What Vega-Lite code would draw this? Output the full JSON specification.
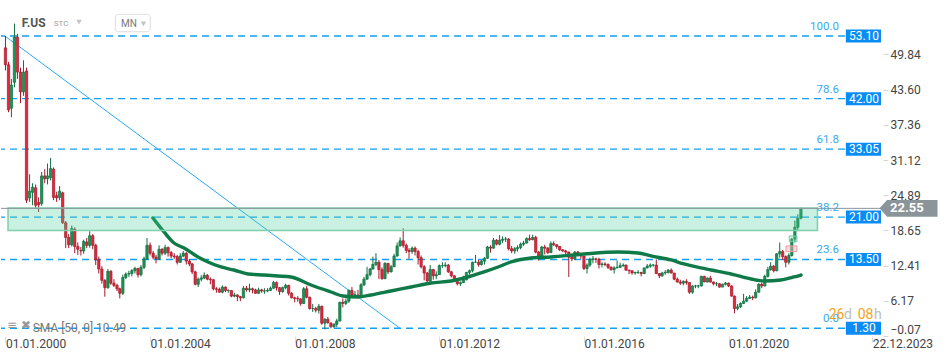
{
"$schema": "https://vega.github.io/schema/vega-lite/v6.json",
"width": 880, "height": 336, "padding": 0, "autosize": {"type": "pad"},
"background": "white",
"config": {"view": {"stroke": null}, "font": "Roboto", "text": {"font": "Roboto"}, "scale": {"continuousPadding": 0}},
"datasets": {
"candles": [
{"d":"2000-01-01","o":51.0,"h":53.1,"l":47.0,"c":48.0},
{"d":"2000-02-01","o":48.0,"h":48.5,"l":39.6,"c":40.0},
{"d":"2000-03-01","o":40.3,"h":45.5,"l":38.7,"c":44.4},
{"d":"2000-04-01","o":44.9,"h":55.3,"l":44.0,"c":52.9},
{"d":"2000-05-01","o":52.9,"h":53.5,"l":45.5,"c":46.7},
{"d":"2000-06-01","o":46.7,"h":47.5,"l":41.2,"c":43.2},
{"d":"2000-07-01","o":43.2,"h":48.8,"l":42.5,"c":46.7},
{"d":"2000-08-01","o":46.9,"h":47.5,"l":23.5,"c":24.0},
{"d":"2000-09-01","o":24.4,"h":28.6,"l":23.7,"c":25.6},
{"d":"2000-10-01","o":25.4,"h":27.0,"l":23.1,"c":26.3},
{"d":"2000-11-01","o":26.2,"h":26.8,"l":22.5,"c":23.1},
{"d":"2000-12-01","o":23.6,"h":24.5,"l":21.9,"c":23.2},
{"d":"2001-01-01","o":23.4,"h":29.0,"l":23.0,"c":28.3},
{"d":"2001-02-01","o":28.3,"h":29.5,"l":27.0,"c":27.8},
{"d":"2001-03-01","o":27.8,"h":30.5,"l":26.8,"c":28.3},
{"d":"2001-04-01","o":28.0,"h":31.5,"l":27.5,"c":29.6},
{"d":"2001-05-01","o":29.5,"h":29.8,"l":24.0,"c":24.5},
{"d":"2001-06-01","o":24.8,"h":25.5,"l":23.7,"c":24.4},
{"d":"2001-07-01","o":24.5,"h":26.5,"l":24.0,"c":25.6},
{"d":"2001-08-01","o":25.3,"h":25.5,"l":19.8,"c":20.0},
{"d":"2001-09-01","o":20.0,"h":20.3,"l":15.5,"c":17.4},
{"d":"2001-10-01","o":17.4,"h":18.0,"l":15.5,"c":16.1},
{"d":"2001-11-01","o":16.1,"h":19.5,"l":15.8,"c":19.0},
{"d":"2001-12-01","o":18.8,"h":19.2,"l":14.6,"c":15.8},
{"d":"2002-01-01","o":15.8,"h":16.5,"l":14.3,"c":15.3},
{"d":"2002-02-01","o":15.1,"h":15.7,"l":14.2,"c":15.0},
{"d":"2002-03-01","o":15.0,"h":17.0,"l":14.5,"c":16.7},
{"d":"2002-04-01","o":16.6,"h":17.3,"l":15.5,"c":16.0},
{"d":"2002-05-01","o":16.0,"h":18.5,"l":15.6,"c":17.7},
{"d":"2002-06-01","o":17.7,"h":18.0,"l":15.3,"c":16.0},
{"d":"2002-07-01","o":16.0,"h":16.3,"l":12.5,"c":13.4},
{"d":"2002-08-01","o":13.4,"h":14.0,"l":11.0,"c":11.8},
{"d":"2002-09-01","o":11.8,"h":12.3,"l":9.2,"c":9.8},
{"d":"2002-10-01","o":9.8,"h":10.0,"l":6.9,"c":8.5},
{"d":"2002-11-01","o":8.5,"h":11.8,"l":8.3,"c":11.4},
{"d":"2002-12-01","o":11.4,"h":11.6,"l":9.0,"c":9.3},
{"d":"2003-01-01","o":9.3,"h":10.0,"l":8.6,"c":8.9},
{"d":"2003-02-01","o":8.9,"h":9.2,"l":7.9,"c":8.3},
{"d":"2003-03-01","o":8.3,"h":8.5,"l":6.6,"c":7.5},
{"d":"2003-04-01","o":7.5,"h":10.8,"l":7.2,"c":10.3},
{"d":"2003-05-01","o":10.3,"h":11.2,"l":10.0,"c":10.9},
{"d":"2003-06-01","o":10.9,"h":11.5,"l":10.4,"c":11.0},
{"d":"2003-07-01","o":11.0,"h":11.8,"l":10.5,"c":11.5},
{"d":"2003-08-01","o":11.5,"h":12.2,"l":11.0,"c":11.9},
{"d":"2003-09-01","o":11.9,"h":12.0,"l":10.3,"c":10.8},
{"d":"2003-10-01","o":10.8,"h":12.5,"l":10.5,"c":12.1},
{"d":"2003-11-01","o":12.1,"h":14.0,"l":11.8,"c":13.6},
{"d":"2003-12-01","o":13.6,"h":17.3,"l":13.4,"c":16.0},
{"d":"2004-01-01","o":16.0,"h":16.5,"l":14.2,"c":14.6},
{"d":"2004-02-01","o":14.6,"h":15.0,"l":13.5,"c":13.9},
{"d":"2004-03-01","o":13.9,"h":14.3,"l":12.8,"c":13.6},
{"d":"2004-04-01","o":13.6,"h":16.0,"l":13.4,"c":15.3},
{"d":"2004-05-01","o":15.3,"h":15.5,"l":14.2,"c":14.6},
{"d":"2004-06-01","o":14.6,"h":16.1,"l":14.3,"c":15.6},
{"d":"2004-07-01","o":15.6,"h":15.8,"l":14.0,"c":14.7},
{"d":"2004-08-01","o":14.7,"h":15.0,"l":13.7,"c":14.1},
{"d":"2004-09-01","o":14.1,"h":14.6,"l":13.6,"c":14.0},
{"d":"2004-10-01","o":14.0,"h":14.3,"l":12.6,"c":13.0},
{"d":"2004-11-01","o":13.0,"h":14.6,"l":12.9,"c":14.1},
{"d":"2004-12-01","o":14.1,"h":15.0,"l":13.9,"c":14.6},
{"d":"2005-01-01","o":14.6,"h":14.8,"l":12.6,"c":13.2},
{"d":"2005-02-01","o":13.2,"h":13.6,"l":12.3,"c":12.7},
{"d":"2005-03-01","o":12.7,"h":12.9,"l":10.9,"c":11.3},
{"d":"2005-04-01","o":11.3,"h":11.5,"l":8.9,"c":9.1},
{"d":"2005-05-01","o":9.1,"h":10.3,"l":8.6,"c":10.0},
{"d":"2005-06-01","o":10.0,"h":10.7,"l":9.6,"c":10.2},
{"d":"2005-07-01","o":10.2,"h":11.2,"l":10.0,"c":10.7},
{"d":"2005-08-01","o":10.7,"h":10.9,"l":9.8,"c":10.0},
{"d":"2005-09-01","o":10.0,"h":10.3,"l":9.1,"c":9.9},
{"d":"2005-10-01","o":9.9,"h":10.0,"l":8.0,"c":8.3},
{"d":"2005-11-01","o":8.3,"h":8.6,"l":7.6,"c":8.2},
{"d":"2005-12-01","o":8.2,"h":8.5,"l":7.6,"c":7.7},
{"d":"2006-01-01","o":7.7,"h":8.9,"l":7.5,"c":8.6},
{"d":"2006-02-01","o":8.6,"h":8.7,"l":7.7,"c":8.0},
{"d":"2006-03-01","o":8.0,"h":8.2,"l":7.6,"c":8.0},
{"d":"2006-04-01","o":8.0,"h":8.0,"l":6.8,"c":7.0},
{"d":"2006-05-01","o":7.0,"h":7.6,"l":6.8,"c":7.2},
{"d":"2006-06-01","o":7.2,"h":7.3,"l":6.1,"c":6.9},
{"d":"2006-07-01","o":6.9,"h":7.0,"l":6.1,"c":6.7},
{"d":"2006-08-01","o":6.7,"h":8.8,"l":6.6,"c":8.4},
{"d":"2006-09-01","o":8.4,"h":8.8,"l":7.8,"c":8.1},
{"d":"2006-10-01","o":8.1,"h":9.2,"l":7.7,"c":8.3},
{"d":"2006-11-01","o":8.3,"h":8.5,"l":7.5,"c":8.1},
{"d":"2006-12-01","o":8.1,"h":8.3,"l":7.4,"c":7.5},
{"d":"2007-01-01","o":7.5,"h":8.5,"l":7.4,"c":8.1},
{"d":"2007-02-01","o":8.1,"h":8.3,"l":7.6,"c":7.9},
{"d":"2007-03-01","o":7.9,"h":8.4,"l":7.4,"c":7.9},
{"d":"2007-04-01","o":7.9,"h":8.4,"l":7.7,"c":8.0},
{"d":"2007-05-01","o":8.0,"h":8.7,"l":7.9,"c":8.4},
{"d":"2007-06-01","o":8.4,"h":9.7,"l":8.3,"c":9.4},
{"d":"2007-07-01","o":9.4,"h":9.6,"l":8.0,"c":8.5},
{"d":"2007-08-01","o":8.5,"h":8.6,"l":7.2,"c":7.8},
{"d":"2007-09-01","o":7.8,"h":8.7,"l":7.6,"c":8.5},
{"d":"2007-10-01","o":8.5,"h":9.2,"l":8.2,"c":8.9},
{"d":"2007-11-01","o":8.9,"h":9.0,"l":7.1,"c":7.5},
{"d":"2007-12-01","o":7.5,"h":7.7,"l":6.6,"c":6.7},
{"d":"2008-01-01","o":6.7,"h":6.9,"l":5.9,"c":6.6},
{"d":"2008-02-01","o":6.6,"h":7.0,"l":6.0,"c":6.5},
{"d":"2008-03-01","o":6.5,"h":6.6,"l":5.3,"c":5.7},
{"d":"2008-04-01","o":5.7,"h":8.6,"l":5.6,"c":8.3},
{"d":"2008-05-01","o":8.3,"h":8.8,"l":6.6,"c":6.8},
{"d":"2008-06-01","o":6.8,"h":6.9,"l":4.6,"c":4.8},
{"d":"2008-07-01","o":4.8,"h":5.6,"l":4.2,"c":4.8},
{"d":"2008-08-01","o":4.8,"h":5.1,"l":4.1,"c":4.5},
{"d":"2008-09-01","o":4.5,"h":5.6,"l":3.9,"c":5.2},
{"d":"2008-10-01","o":5.2,"h":5.3,"l":1.9,"c":2.2},
{"d":"2008-11-01","o":2.2,"h":3.1,"l":1.1,"c":2.9},
{"d":"2008-12-01","o":2.9,"h":3.3,"l":2.1,"c":2.3},
{"d":"2009-01-01","o":2.2,"h":2.4,"l":1.3,"c":1.6},
{"d":"2009-02-01","o":1.6,"h":2.2,"l":1.3,"c":2.0},
{"d":"2009-03-01","o":2.0,"h":3.0,"l":1.5,"c":2.6},
{"d":"2009-04-01","o":2.6,"h":6.0,"l":2.5,"c":5.9},
{"d":"2009-05-01","o":5.9,"h":6.6,"l":5.0,"c":5.7},
{"d":"2009-06-01","o":5.7,"h":6.6,"l":5.4,"c":6.1},
{"d":"2009-07-01","o":6.1,"h":8.2,"l":5.8,"c":8.0},
{"d":"2009-08-01","o":8.0,"h":8.6,"l":7.0,"c":7.2},
{"d":"2009-09-01","o":7.2,"h":7.9,"l":6.8,"c":7.2},
{"d":"2009-10-01","o":7.2,"h":8.1,"l":6.7,"c":7.0},
{"d":"2009-11-01","o":7.0,"h":9.3,"l":6.8,"c":9.0},
{"d":"2009-12-01","o":9.0,"h":10.4,"l":8.8,"c":10.0},
{"d":"2010-01-01","o":10.0,"h":12.2,"l":9.9,"c":10.8},
{"d":"2010-02-01","o":10.8,"h":12.0,"l":10.5,"c":11.8},
{"d":"2010-03-01","o":11.8,"h":14.0,"l":11.7,"c":12.6},
{"d":"2010-04-01","o":12.6,"h":14.6,"l":12.3,"c":13.0},
{"d":"2010-05-01","o":13.0,"h":13.4,"l":10.0,"c":11.7},
{"d":"2010-06-01","o":11.7,"h":12.1,"l":9.9,"c":10.1},
{"d":"2010-07-01","o":10.1,"h":13.0,"l":10.0,"c":12.8},
{"d":"2010-08-01","o":12.8,"h":12.9,"l":10.9,"c":11.3},
{"d":"2010-09-01","o":11.3,"h":12.5,"l":11.2,"c":12.2},
{"d":"2010-10-01","o":12.2,"h":14.5,"l":12.2,"c":14.1},
{"d":"2010-11-01","o":14.1,"h":16.5,"l":14.0,"c":15.9},
{"d":"2010-12-01","o":15.9,"h":17.4,"l":15.8,"c":16.8},
{"d":"2011-01-01","o":16.8,"h":19.0,"l":15.6,"c":16.0},
{"d":"2011-02-01","o":16.0,"h":16.3,"l":14.6,"c":15.1},
{"d":"2011-03-01","o":15.1,"h":15.5,"l":13.6,"c":14.9},
{"d":"2011-04-01","o":14.9,"h":15.8,"l":14.5,"c":15.5},
{"d":"2011-05-01","o":15.5,"h":15.8,"l":14.2,"c":14.9},
{"d":"2011-06-01","o":14.9,"h":15.2,"l":12.6,"c":13.8},
{"d":"2011-07-01","o":13.8,"h":14.2,"l":11.9,"c":12.2},
{"d":"2011-08-01","o":12.2,"h":12.5,"l":9.8,"c":11.1},
{"d":"2011-09-01","o":11.1,"h":11.3,"l":9.4,"c":9.7},
{"d":"2011-10-01","o":9.7,"h":12.5,"l":9.1,"c":11.7},
{"d":"2011-11-01","o":11.7,"h":11.8,"l":9.9,"c":10.6},
{"d":"2011-12-01","o":10.6,"h":11.4,"l":10.0,"c":10.8},
{"d":"2012-01-01","o":10.8,"h":12.6,"l":10.8,"c":12.4},
{"d":"2012-02-01","o":12.4,"h":13.0,"l":12.0,"c":12.4},
{"d":"2012-03-01","o":12.4,"h":13.0,"l":12.1,"c":12.5},
{"d":"2012-04-01","o":12.5,"h":12.7,"l":11.1,"c":11.3},
{"d":"2012-05-01","o":11.3,"h":11.5,"l":10.3,"c":10.6},
{"d":"2012-06-01","o":10.6,"h":10.7,"l":9.5,"c":9.6},
{"d":"2012-07-01","o":9.6,"h":9.8,"l":8.9,"c":9.2},
{"d":"2012-08-01","o":9.2,"h":9.6,"l":8.8,"c":9.4},
{"d":"2012-09-01","o":9.4,"h":10.6,"l":9.3,"c":9.9},
{"d":"2012-10-01","o":9.9,"h":11.3,"l":9.8,"c":11.2},
{"d":"2012-11-01","o":11.2,"h":11.7,"l":10.8,"c":11.5},
{"d":"2012-12-01","o":11.5,"h":13.1,"l":11.2,"c":13.0},
{"d":"2013-01-01","o":13.0,"h":14.3,"l":12.9,"c":13.0},
{"d":"2013-02-01","o":13.0,"h":13.4,"l":12.2,"c":12.6},
{"d":"2013-03-01","o":12.6,"h":13.4,"l":12.4,"c":13.2},
{"d":"2013-04-01","o":13.2,"h":13.9,"l":12.6,"c":13.7},
{"d":"2013-05-01","o":13.7,"h":15.9,"l":13.6,"c":15.7},
{"d":"2013-06-01","o":15.7,"h":16.0,"l":14.7,"c":15.5},
{"d":"2013-07-01","o":15.5,"h":17.3,"l":15.4,"c":16.9},
{"d":"2013-08-01","o":16.9,"h":17.1,"l":16.0,"c":16.2},
{"d":"2013-09-01","o":16.2,"h":17.8,"l":16.0,"c":16.9},
{"d":"2013-10-01","o":16.9,"h":17.6,"l":16.4,"c":17.1},
{"d":"2013-11-01","o":17.1,"h":17.5,"l":16.6,"c":17.1},
{"d":"2013-12-01","o":17.1,"h":17.3,"l":15.1,"c":15.4},
{"d":"2014-01-01","o":15.4,"h":15.9,"l":14.6,"c":15.0},
{"d":"2014-02-01","o":15.0,"h":15.7,"l":14.5,"c":15.4},
{"d":"2014-03-01","o":15.4,"h":16.0,"l":14.9,"c":15.6},
{"d":"2014-04-01","o":15.6,"h":16.5,"l":15.3,"c":16.2},
{"d":"2014-05-01","o":16.2,"h":16.8,"l":15.9,"c":16.4},
{"d":"2014-06-01","o":16.4,"h":17.4,"l":16.3,"c":17.2},
{"d":"2014-07-01","o":17.2,"h":17.9,"l":16.8,"c":17.0},
{"d":"2014-08-01","o":17.0,"h":17.9,"l":16.9,"c":17.4},
{"d":"2014-09-01","o":17.4,"h":17.7,"l":14.6,"c":14.8},
{"d":"2014-10-01","o":14.8,"h":15.0,"l":13.3,"c":14.1},
{"d":"2014-11-01","o":14.1,"h":15.9,"l":14.1,"c":15.7},
{"d":"2014-12-01","o":15.7,"h":16.1,"l":14.4,"c":15.5},
{"d":"2015-01-01","o":15.5,"h":15.7,"l":14.5,"c":14.7},
{"d":"2015-02-01","o":14.7,"h":16.7,"l":14.7,"c":16.3},
{"d":"2015-03-01","o":16.3,"h":16.7,"l":15.9,"c":16.1},
{"d":"2015-04-01","o":16.1,"h":16.2,"l":15.4,"c":15.8},
{"d":"2015-05-01","o":15.8,"h":15.9,"l":15.0,"c":15.2},
{"d":"2015-06-01","o":15.2,"h":15.3,"l":14.8,"c":15.0},
{"d":"2015-07-01","o":15.0,"h":15.2,"l":14.1,"c":14.8},
{"d":"2015-08-01","o":14.8,"h":14.9,"l":10.4,"c":13.9},
{"d":"2015-09-01","o":13.9,"h":14.4,"l":13.2,"c":13.6},
{"d":"2015-10-01","o":13.6,"h":15.0,"l":13.4,"c":14.8},
{"d":"2015-11-01","o":14.8,"h":15.0,"l":14.0,"c":14.3},
{"d":"2015-12-01","o":14.3,"h":14.6,"l":13.6,"c":14.1},
{"d":"2016-01-01","o":14.1,"h":14.1,"l":11.6,"c":11.9},
{"d":"2016-02-01","o":11.9,"h":12.8,"l":11.0,"c":12.5},
{"d":"2016-03-01","o":12.5,"h":13.8,"l":12.2,"c":13.5},
{"d":"2016-04-01","o":13.5,"h":14.1,"l":12.8,"c":13.6},
{"d":"2016-05-01","o":13.6,"h":13.8,"l":12.9,"c":13.5},
{"d":"2016-06-01","o":13.5,"h":13.8,"l":11.9,"c":12.6},
{"d":"2016-07-01","o":12.6,"h":13.0,"l":12.1,"c":12.7},
{"d":"2016-08-01","o":12.7,"h":13.0,"l":12.3,"c":12.6},
{"d":"2016-09-01","o":12.6,"h":12.8,"l":11.8,"c":12.1},
{"d":"2016-10-01","o":12.1,"h":12.3,"l":11.5,"c":11.7},
{"d":"2016-11-01","o":11.7,"h":12.3,"l":11.0,"c":12.0},
{"d":"2016-12-01","o":12.0,"h":13.3,"l":11.9,"c":12.1},
{"d":"2017-01-01","o":12.1,"h":12.9,"l":12.0,"c":12.4},
{"d":"2017-02-01","o":12.4,"h":12.8,"l":12.2,"c":12.5},
{"d":"2017-03-01","o":12.5,"h":12.6,"l":11.5,"c":11.6},
{"d":"2017-04-01","o":11.6,"h":11.7,"l":10.9,"c":11.5},
{"d":"2017-05-01","o":11.5,"h":11.5,"l":10.8,"c":11.1},
{"d":"2017-06-01","o":11.1,"h":11.3,"l":10.8,"c":11.2},
{"d":"2017-07-01","o":11.2,"h":11.6,"l":10.9,"c":11.2},
{"d":"2017-08-01","o":11.2,"h":11.3,"l":10.5,"c":11.0},
{"d":"2017-09-01","o":11.0,"h":12.0,"l":10.9,"c":12.0},
{"d":"2017-10-01","o":12.0,"h":12.7,"l":11.9,"c":12.3},
{"d":"2017-11-01","o":12.3,"h":12.8,"l":12.0,"c":12.5},
{"d":"2017-12-01","o":12.5,"h":12.7,"l":12.2,"c":12.5},
{"d":"2018-01-01","o":12.5,"h":13.5,"l":10.9,"c":11.0},
{"d":"2018-02-01","o":11.0,"h":11.1,"l":10.2,"c":10.6},
{"d":"2018-03-01","o":10.6,"h":11.3,"l":10.4,"c":11.1},
{"d":"2018-04-01","o":11.1,"h":11.6,"l":10.8,"c":11.2},
{"d":"2018-05-01","o":11.2,"h":11.8,"l":11.0,"c":11.6},
{"d":"2018-06-01","o":11.6,"h":11.9,"l":11.0,"c":11.1},
{"d":"2018-07-01","o":11.1,"h":11.1,"l":9.8,"c":10.0},
{"d":"2018-08-01","o":10.0,"h":10.3,"l":9.4,"c":9.5},
{"d":"2018-09-01","o":9.5,"h":9.9,"l":9.0,"c":9.3},
{"d":"2018-10-01","o":9.3,"h":9.8,"l":8.9,"c":9.6},
{"d":"2018-11-01","o":9.6,"h":10.0,"l":9.0,"c":9.4},
{"d":"2018-12-01","o":9.4,"h":9.5,"l":7.4,"c":7.7},
{"d":"2019-01-01","o":7.7,"h":8.9,"l":7.4,"c":8.8},
{"d":"2019-02-01","o":8.8,"h":9.0,"l":8.4,"c":8.8},
{"d":"2019-03-01","o":8.8,"h":9.0,"l":8.4,"c":8.8},
{"d":"2019-04-01","o":8.8,"h":10.6,"l":8.7,"c":10.5},
{"d":"2019-05-01","o":10.5,"h":10.6,"l":9.5,"c":9.5},
{"d":"2019-06-01","o":9.5,"h":10.3,"l":9.4,"c":10.2},
{"d":"2019-07-01","o":10.2,"h":10.6,"l":9.4,"c":9.5},
{"d":"2019-08-01","o":9.5,"h":9.6,"l":8.9,"c":9.2},
{"d":"2019-09-01","o":9.2,"h":9.5,"l":8.8,"c":9.2},
{"d":"2019-10-01","o":9.2,"h":9.3,"l":8.5,"c":8.6},
{"d":"2019-11-01","o":8.6,"h":9.2,"l":8.6,"c":9.1},
{"d":"2019-12-01","o":9.1,"h":9.5,"l":8.9,"c":9.3},
{"d":"2020-01-01","o":9.3,"h":9.4,"l":8.6,"c":8.8},
{"d":"2020-02-01","o":8.8,"h":8.9,"l":6.9,"c":7.0},
{"d":"2020-03-01","o":7.0,"h":7.1,"l":3.96,"c":4.8},
{"d":"2020-04-01","o":4.8,"h":5.6,"l":4.5,"c":5.1},
{"d":"2020-05-01","o":5.1,"h":5.9,"l":4.9,"c":5.7},
{"d":"2020-06-01","o":5.7,"h":7.4,"l":5.6,"c":6.1},
{"d":"2020-07-01","o":6.1,"h":7.0,"l":6.0,"c":6.6},
{"d":"2020-08-01","o":6.6,"h":7.2,"l":6.5,"c":6.8},
{"d":"2020-09-01","o":6.8,"h":7.1,"l":6.3,"c":6.7},
{"d":"2020-10-01","o":6.7,"h":8.2,"l":6.6,"c":7.7},
{"d":"2020-11-01","o":7.7,"h":9.3,"l":7.6,"c":9.1},
{"d":"2020-12-01","o":9.1,"h":9.4,"l":8.4,"c":8.8},
{"d":"2021-01-01","o":8.8,"h":10.8,"l":8.7,"c":10.5},
{"d":"2021-02-01","o":10.5,"h":12.2,"l":10.3,"c":11.7},
{"d":"2021-03-01","o":11.7,"h":13.0,"l":11.5,"c":12.3},
{"d":"2021-04-01","o":12.3,"h":12.5,"l":11.2,"c":11.5},
{"d":"2021-05-01","o":11.5,"h":14.6,"l":11.4,"c":14.5},
{"d":"2021-06-01","o":14.5,"h":16.5,"l":13.8,"c":14.9},
{"d":"2021-07-01","o":14.9,"h":15.2,"l":13.4,"c":14.0},
{"d":"2021-08-01","o":14.0,"h":14.2,"l":12.1,"c":13.0},
{"d":"2021-09-01","o":13.0,"h":14.6,"l":12.6,"c":14.2},
{"d":"2021-10-01","o":14.2,"h":17.3,"l":14.0,"c":17.1},
{"d":"2021-11-01","o":17.1,"h":20.4,"l":16.5,"c":19.2},
{"d":"2021-12-01","o":19.2,"h":21.5,"l":18.5,"c":20.8},
{"d":"2022-01-01","o":20.8,"h":22.7,"l":20.6,"c":22.55}
],
"sma": [
{"d":"2004-01-30","v":20.85},{"d":"2004-05-21","v":18.37},{"d":"2004-08-30","v":16.42},{"d":"2004-12-09","v":15.53},
{"d":"2005-04-29","v":13.94},{"d":"2005-08-08","v":13.05},{"d":"2005-12-17","v":12.16},{"d":"2006-04-27","v":11.63},
{"d":"2006-09-16","v":10.92},{"d":"2007-02-24","v":10.74},{"d":"2007-07-15","v":10.57},{"d":"2007-11-24","v":10.39},
{"d":"2008-06-14","v":8.97},{"d":"2009-01-02","v":7.73},{"d":"2009-05-03","v":7.02},{"d":"2009-10-02","v":6.85},
{"d":"2010-02-10","v":7.2},{"d":"2010-08-30","v":7.91},{"d":"2011-03-21","v":8.62},{"d":"2011-10-09","v":9.33},
{"d":"2012-04-28","v":9.68},{"d":"2012-09-07","v":10.21},{"d":"2013-03-28","v":11.28},{"d":"2013-08-16","v":12.16},
{"d":"2013-12-25","v":13.05},{"d":"2014-07-15","v":13.76},{"d":"2015-02-02","v":13.94},{"d":"2016-01-01","v":14.47},
{"d":"2016-12-10","v":14.82},{"d":"2017-06-30","v":14.65},{"d":"2017-11-08","v":14.12},{"d":"2018-05-29","v":13.41},
{"d":"2018-10-07","v":12.7},{"d":"2019-03-28","v":11.99},{"d":"2019-07-07","v":11.63},{"d":"2020-01-25","v":10.92},
{"d":"2020-08-15","v":10.04},{"d":"2020-12-24","v":9.68},{"d":"2021-06-14","v":9.86},{"d":"2021-10-23","v":10.39},
{"d":"2022-01-02","v":10.74}
],
"fib": [
{"v":53.10,"p":"100.0","t":"53.10"},
{"v":42.00,"p":"78.6","t":"42.00"},
{"v":33.05,"p":"61.8","t":"33.05"},
{"v":21.00,"p":"38.2","t":"21.00"},
{"v":13.50,"p":"23.6","t":"13.50"},
{"v":1.30,"p":"0.0","t":"1.30"}
],
"trend": [
{"d":"1999-12-27","v":53.1},
{"d":"2010-11-30","v":1.3}
]
},
"layer": [
{
"data": {"name": "fib"},
"mark": {"type": "rule", "color": "#14a0ee", "strokeWidth": 1.4, "strokeDash": [7, 5]},
"encoding": {
"y": {"field": "v", "type": "quantitative", "title": null,
"scale": {"domain": [-0.07, 59.48], "nice": false, "zero": false, "padding": 0},
"axis": {"orient": "right", "values": [-0.07, 6.17, 12.41, 18.65, 24.89, 31.12, 37.36, 43.60, 49.84], "format": ".2f", "grid": false, "domain": false, "tickColor": "#d5d5d5", "tickSize": 5, "offset": 2, "labelPadding": 2, "labelColor": "#444", "labelFontSize": 12, "labelFont": "Roboto", "labelFlush": true, "title": null}}
}
},
{
"data": {"name": "trend"},
"mark": {"type": "line", "color": "#2aa8f2", "strokeWidth": 1},
"encoding": {
"x": {"field": "d", "type": "temporal", "title": null,
"scale": {"domain": [{"year": 1999, "month": 11, "date": 17, "utc": true}, {"year": 2024, "month": 3, "date": 20, "utc": true}], "nice": false, "padding": 0},
"axis": {"values": [{"year": 2000, "month": 1, "date": 1, "utc": true}, {"year": 2004, "month": 1, "date": 1, "utc": true}, {"year": 2008, "month": 1, "date": 1, "utc": true}, {"year": 2012, "month": 1, "date": 1, "utc": true}, {"year": 2016, "month": 1, "date": 1, "utc": true}, {"year": 2020, "month": 1, "date": 1, "utc": true}, {"year": 2023, "month": 12, "date": 22, "utc": true}],
"labelExpr": "utcFormat(datum.value, '%d.%m.%Y')", "labelAlign": "left", "labelFlush": false, "grid": false, "domain": false, "tickColor": "#dddddd", "tickSize": 6, "labelPadding": -4, "labelColor": "#444", "labelFontSize": 12, "labelFont": "Roboto", "title": null}},
"y": {"field": "v", "type": "quantitative", "title": null}
}
},
{
"data": {"name": "candles"},
"mark": {"type": "rule", "strokeWidth": 1},
"encoding": {
"x": {"field": "d", "type": "temporal", "title": null},
"y": {"field": "l", "type": "quantitative", "title": null},
"y2": {"field": "h"},
"color": {"condition": {"test": "datum.c >= datum.o", "value": "#0f6e3e"}, "value": "#a3182a"}
}
},
{
"data": {"name": "candles"},
"mark": {"type": "bar", "width": 2.3, "strokeWidth": 0.7},
"encoding": {
"x": {"field": "d", "type": "temporal", "title": null},
"y": {"field": "o", "type": "quantitative", "title": null},
"y2": {"field": "c"},
"fill": {"condition": {"test": "datum.c >= datum.o", "value": "#1d9459"}, "value": "#e0293d"},
"stroke": {"condition": {"test": "datum.c >= datum.o", "value": "#0f6e3e"}, "value": "#a3182a"}
}
},
{
"data": {"name": "sma"},
"mark": {"type": "line", "color": "#0f7a48", "strokeWidth": 3.4, "interpolate": "monotone", "strokeCap": "round"},
"encoding": {
"x": {"field": "d", "type": "temporal", "title": null},
"y": {"field": "v", "type": "quantitative", "title": null}
}
},
{
"data": {"values": [{}]},
"mark": {"type": "rect", "fill": "#48d19a", "fillOpacity": 0.3, "stroke": "#7fcfac", "strokeWidth": 1.5},
"encoding": {
"x": {"datum": {"year": 2000, "month": 1, "date": 27, "utc": true}, "type": "temporal"},
"x2": {"datum": {"year": 2022, "month": 6, "date": 17, "utc": true}},
"y": {"datum": 18.65, "type": "quantitative"},
"y2": {"datum": 22.6}
}
},
{
"data": {"values": [{}]},
"mark": {"type": "rule", "color": "#8c959b", "strokeWidth": 1},
"encoding": {"y": {"datum": 22.55, "type": "quantitative"}}
},
{
"data": {"values": [{}]},
"mark": {"type": "rect", "fill": "#7ed6b0", "fillOpacity": 0.35, "stroke": "#6fcaa2", "strokeWidth": 1},
"encoding": {
"x": {"datum": {"year": 2021, "month": 9, "date": 5, "utc": true}, "type": "temporal"},
"x2": {"datum": {"year": 2021, "month": 11, "date": 22, "utc": true}},
"y": {"datum": 16.65, "type": "quantitative"},
"y2": {"datum": 17.66}
}
},
{
"data": {"values": [{}]},
"mark": {"type": "rect", "fill": "#f4b6bb", "fillOpacity": 0.5, "stroke": "#f19ca4", "strokeWidth": 1},
"encoding": {
"x": {"datum": {"year": 2021, "month": 8, "date": 3, "utc": true}, "type": "temporal"},
"x2": {"datum": {"year": 2021, "month": 11, "date": 22, "utc": true}},
"y": {"datum": 14.88, "type": "quantitative"},
"y2": {"datum": 15.89}
}
},
{
"data": {"name": "fib"},
"mark": {"type": "rect", "color": "#0a8cf5", "yOffset": -6.5, "y2Offset": 6.5},
"encoding": {
"x": {"datum": {"year": 2023, "month": 3, "date": 31, "utc": true}, "type": "temporal"},
"x2": {"datum": {"year": 2024, "month": 3, "date": 20, "utc": true}},
"y": {"field": "v", "type": "quantitative"},
"y2": {"field": "v"}
}
},
{
"data": {"name": "fib"},
"mark": {"type": "text", "color": "white", "fontSize": 12, "align": "center", "baseline": "middle", "font": "Roboto"},
"encoding": {
"x": {"datum": {"year": 2023, "month": 9, "date": 30, "utc": true}, "type": "temporal"},
"y": {"field": "v", "type": "quantitative"},
"text": {"field": "t"}
}
},
{
"data": {"name": "fib"},
"mark": {"type": "text", "color": "#3aa9ec", "fontSize": 11.5, "align": "right", "baseline": "middle", "dy": -9, "font": "Roboto"},
"encoding": {
"x": {"datum": {"year": 2023, "month": 1, "date": 20, "utc": true}, "type": "temporal"},
"y": {"field": "v", "type": "quantitative"},
"text": {"field": "p"}
}
},
{
"data": {"values": [{}]},
"mark": {"type": "point", "shape": "M-1,0L-0.74,-0.286L1,-0.286L1,0.286L-0.74,0.286Z", "size": 3364, "filled": true, "color": "#8a9499", "opacity": 1, "strokeWidth": 0},
"encoding": {
"x": {"datum": {"year": 2024, "month": 12, "date": 23, "utc": true}, "type": "temporal"},
"y": {"datum": 22.55, "type": "quantitative"}
}
},
{
"data": {"values": [{}]},
"mark": {"type": "text", "text": "22.55", "color": "white", "fontSize": 13, "fontWeight": "bold", "align": "left", "baseline": "middle", "font": "Roboto"},
"encoding": {
"x": {"datum": {"year": 2024, "month": 6, "date": 19, "utc": true}, "type": "temporal"},
"y": {"datum": 22.55, "type": "quantitative"}
}
},
{
"data": {"values": [{}]},
"mark": {"type": "text", "text": "F.US", "color": "#555", "fontSize": 12, "fontWeight": "bold", "align": "left", "baseline": "middle", "font": "Roboto"},
"encoding": {
"x": {"datum": {"year": 2000, "month": 6, "date": 13, "utc": true}, "type": "temporal"},
"y": {"datum": 55.35, "type": "quantitative"}
}
},
{
"data": {"values": [{}]},
"mark": {"type": "text", "text": "STC", "color": "#9aa0a6", "fontSize": 8, "align": "left", "baseline": "middle", "font": "Roboto"},
"encoding": {
"x": {"datum": {"year": 2001, "month": 5, "date": 3, "utc": true}, "type": "temporal"},
"y": {"datum": 55.23, "type": "quantitative"}
}
},
{
"data": {"values": [{}]},
"mark": {"type": "point", "shape": "triangle-down", "size": 30, "filled": true, "color": "#c4c4c4", "opacity": 1},
"encoding": {
"x": {"datum": {"year": 2002, "month": 1, "date": 13, "utc": true}, "type": "temporal"},
"y": {"datum": 55.58, "type": "quantitative"}
}
},
{
"data": {"values": [{}]},
"mark": {"type": "rect", "fill": "white", "stroke": "#dedede", "strokeWidth": 1, "cornerRadius": 3},
"encoding": {
"x": {"datum": {"year": 2003, "month": 1, "date": 15, "utc": true}, "type": "temporal"},
"x2": {"datum": {"year": 2004, "month": 1, "date": 3, "utc": true}},
"y": {"datum": 53.86, "type": "quantitative"},
"y2": {"datum": 56.95}
}
},
{
"data": {"values": [{}]},
"mark": {"type": "text", "text": "MN", "color": "#777", "fontSize": 10, "align": "left", "baseline": "middle", "font": "Roboto"},
"encoding": {
"x": {"datum": {"year": 2003, "month": 3, "date": 13, "utc": true}, "type": "temporal"},
"y": {"datum": 55.28, "type": "quantitative"}
}
},
{
"data": {"values": [{}]},
"mark": {"type": "point", "shape": "triangle-down", "size": 30, "filled": true, "color": "#c4c4c4", "opacity": 1},
"encoding": {
"x": {"datum": {"year": 2003, "month": 10, "date": 26, "utc": true}, "type": "temporal"},
"y": {"datum": 55.23, "type": "quantitative"}
}
},
{
"data": {"values": [{}]},
"mark": {"type": "text", "text": "≡ ✖", "color": "#999", "fontSize": 12, "align": "left", "baseline": "middle", "font": "DejaVu Sans"},
"encoding": {
"x": {"datum": {"year": 2000, "month": 1, "date": 17, "utc": true}, "type": "temporal"},
"y": {"datum": 1.9, "type": "quantitative"}
}
},
{
"data": {"values": [{}]},
"mark": {"type": "text", "text": "SMA [50, 0] 10.49", "color": "#777", "fontSize": 12, "align": "left", "baseline": "middle", "font": "Roboto"},
"encoding": {
"x": {"datum": {"year": 2000, "month": 10, "date": 2, "utc": true}, "type": "temporal"},
"y": {"datum": 1.3, "type": "quantitative"}
}
},
{
"data": {"values": [{}]},
"mark": {"type": "text", "text": "26", "color": "#f5a31a", "fontSize": 14, "align": "left", "baseline": "middle", "font": "Roboto"},
"encoding": {
"x": {"datum": {"year": 2022, "month": 10, "date": 8, "utc": true}, "type": "temporal"},
"y": {"datum": 3.66, "type": "quantitative"}
}
},
{
"data": {"values": [{}]},
"mark": {"type": "text", "text": "d", "color": "#bdbdbd", "fontSize": 14, "align": "left", "baseline": "middle", "font": "Roboto"},
"encoding": {
"x": {"datum": {"year": 2023, "month": 3, "date": 12, "utc": true}, "type": "temporal"},
"y": {"datum": 3.66, "type": "quantitative"}
}
},
{
"data": {"values": [{}]},
"mark": {"type": "text", "text": "08", "color": "#f5a31a", "fontSize": 14, "align": "left", "baseline": "middle", "font": "Roboto"},
"encoding": {
"x": {"datum": {"year": 2023, "month": 7, "date": 28, "utc": true}, "type": "temporal"},
"y": {"datum": 3.66, "type": "quantitative"}
}
},
{
"data": {"values": [{}]},
"mark": {"type": "text", "text": "h", "color": "#bdbdbd", "fontSize": 14, "align": "left", "baseline": "middle", "font": "Roboto"},
"encoding": {
"x": {"datum": {"year": 2024, "month": 1, "date": 9, "utc": true}, "type": "temporal"},
"y": {"datum": 3.66, "type": "quantitative"}
}
}
]
}
